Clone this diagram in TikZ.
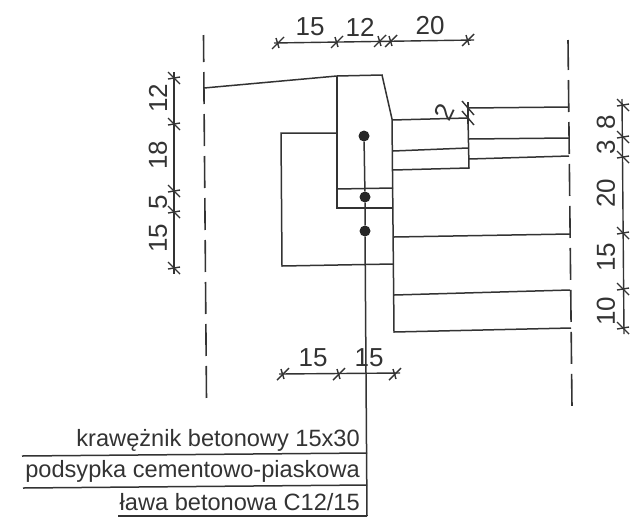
\documentclass[tikz,border=0pt]{standalone}
\usepackage{fontspec}
\setmainfont{Liberation Sans}
\usepackage{xcolor}
\definecolor{inkgray}{HTML}{333333}
\tikzset{
    wall/.style={draw=inkgray, line width=1.5pt},
    axisline/.style={draw=inkgray, line width=1.6pt, dash pattern=on 32pt off 10pt},
    dimline/.style={draw=inkgray, line width=1.4pt},
    dimtext/.style={text=inkgray, font=\fontsize{26}{26}\selectfont, inner sep=0pt},
    dimtextv/.style={dimtext, rotate=90},
    tabletext/.style={text=inkgray, font=\fontsize{23.6}{24}\selectfont, inner sep=0pt, anchor=east},
    dot/.style={circle, fill=black!85, inner sep=0pt, minimum size=11pt}
}
\begin{document}
\begin{tikzpicture}[x=1pt,y=-1pt]
    \useasboundingbox (0,0) rectangle (636,517);
    % Axes
    \draw[axisline, dash phase=5pt] (203.5,35) -- (206.5,400);
    \draw[axisline, dash phase=2pt] (568,40) -- (572,408);
    % Road surface and kerb
    \draw[wall] (204,88) -- (337,76) -- (382,75) -- (392,119) -- (394,332) -- (571,328);
    \draw[wall] (337,76) -- (337,208) -- (393,208);
    \draw[wall] (337,189) -- (393,188);
    % Bench
    \draw[wall] (337,133) -- (281,133) -- (282,266) -- (393,264);
    % Layers, left part
    \draw[wall] (392,120) -- (468,118) -- (469,168) -- (393,170);
    \draw[wall] (393,151) -- (468,148);
    % Layers, right part
    \draw[wall] (468,108) -- (569,107);
    \draw[wall] (469,139) -- (569,138);
    \draw[wall] (469,159) -- (569,156);
    \draw[wall] (394,237) -- (570,234);
    \draw[wall] (394,295) -- (570,290);
    % Dots and leader
    \node[dot] (kerbdot) at (364,136) {};
    \node[dot] (sanddot) at (365,197) {};
    \node[dot] (benchdot) at (365,231) {};
    \coordinate (leaderend) at (367,516);
    \draw[wall] (kerbdot) -- (sanddot) -- (benchdot) -- (leaderend);
    % Table of materials
    \draw[wall] (22,456) -- (367,453);
    \draw[wall] (23,488) -- (367,485);
    \draw[wall] (118,516) -- (367,516);
    \node[tabletext] (kerbtext) at (360,440) {krawężnik betonowy 15x30};
    \node[tabletext] (sandtext) at (360,471) {podsypka cementowo-piaskowa};
    \node[tabletext] (benchtext) at (360,502) {ława betonowa C12/15};
    % Top dimensions
    \draw[dimline] (274,43) -- (474,40);
    \foreach \i/\j in {278/43, 337/42, 380/41, 391/41, 468/40} {
        \draw[dimline] (\i-6,\j+6) -- (\i+6,\j-6);
        \draw[dimline] (\i-2,\j-5) -- (\i+1,\j+5);
    }
    \node[dimtext] (topa) at (310,27) {15};
    \node[dimtext] (topb) at (360,27) {12};
    \node[dimtext] (topc) at (430,26) {20};
    % Left dimensions
    \draw[dimline] (174,72) -- (174,274);
    \foreach \j in {78, 124, 191, 212, 268} {
        \draw[dimline] (174-6,\j-6) -- (174+6,\j+6);
        \draw[dimline] (174-6,\j+1) -- (174+6,\j-1);
    }
    \node[dimtextv] (lefta) at (158,98) {12};
    \node[dimtextv] (leftb) at (158,155) {18};
    \node[dimtextv] (leftc) at (158,202) {5};
    \node[dimtextv] (leftd) at (158,238) {15};
    % Right dimensions
    \draw[dimline] (622,99) -- (624,334);
    \foreach \j in {105, 137, 157, 233, 289, 328} {
        \draw[dimline] (623-6,\j-6) -- (623+6,\j+6);
        \draw[dimline] (623-6,\j+1) -- (623+6,\j-1);
    }
    \node[dimtextv] (righta) at (606,122) {8};
    \node[dimtextv] (rightb) at (606,147) {3};
    \node[dimtextv] (rightc) at (606,193) {20};
    \node[dimtextv] (rightd) at (606,257) {15};
    \node[dimtextv] (righte) at (606,311) {10};
    % Small step dimension
    \draw[dimline] (468,102) -- (468,124);
    \foreach \j in {108, 118} {
        \draw[dimline] (462,\j-7) -- (474,\j+7);
    }
    \node[dimtextv, rotate=-25] (stepa) at (444,112) {2};
    % Bottom dimensions
    \draw[dimline] (279,374) -- (400,373);
    \foreach \i in {283, 339, 395} {
        \draw[dimline] (\i-6,374+6) -- (\i+6,374-6);
        \draw[dimline] (\i-2,374-5) -- (\i+1,374+5);
    }
    \node[dimtext] (bota) at (313,358) {15};
    \node[dimtext] (botb) at (369,358) {15};
\end{tikzpicture}
\end{document}
